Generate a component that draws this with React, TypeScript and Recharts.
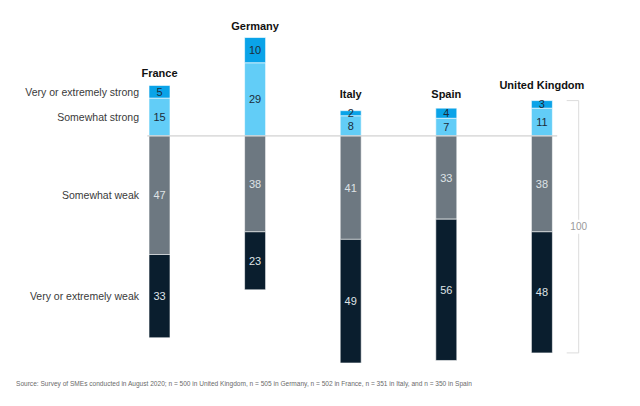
import { BarChart, Bar, XAxis, YAxis, LabelList, ReferenceLine } from 'recharts'

const countries = ['France', 'Germany', 'Italy', 'Spain', 'United Kingdom']
const veryStrong = [5, 10, 2, 4, 3]
const somewhatStrong = [15, 29, 8, 7, 11]
const somewhatWeak = [47, 38, 41, 33, 38]
const veryWeak = [33, 23, 49, 56, 48]
const seriesNames = ['Very or extremely strong', 'Somewhat strong', 'Somewhat weak', 'Very or extremely weak']
const bracketLabel = '100'
const sourceNote =
  'Source: Survey of SMEs conducted in August 2020; n = 500 in United Kingdom, n = 505 in Germany, n = 502 in France, n = 351 in Italy, and n = 350 in Spain'

const data = countries.map((country, i) => ({
  country,
  somewhatStrong: somewhatStrong[i],
  veryStrong: veryStrong[i],
  somewhatWeak: -somewhatWeak[i],
  veryWeak: -veryWeak[i],
}))

const ukIndex = countries.length - 1
const ukTop = veryStrong[ukIndex] + somewhatStrong[ukIndex]
const ukBottom = -(somewhatWeak[ukIndex] + veryWeak[ukIndex])

const FONT = '"Liberation Sans", Arial, sans-serif'

// series name drawn left of the first (France) bar only
function sideLabel(name: string) {
  return (props: any) => {
    if (props.index !== 0) return null
    const { x, y, height } = props
    return (
      <text
        x={x - 10}
        y={y + height / 2}
        textAnchor="end"
        dominantBaseline="central"
        fontSize={10.5}
        fill="#3a3a3a"
        fontFamily={FONT}
      >
        {name}
      </text>
    )
  }
}

function valueLabel(color: string) {
  return (props: any) => {
    const { x, y, width, height, value } = props
    return (
      <text
        x={x + width / 2}
        y={y + height / 2}
        textAnchor="middle"
        dominantBaseline="central"
        fontSize={11}
        fill={color}
        fontFamily={FONT}
      >
        {Math.abs(Number(value))}
      </text>
    )
  }
}

// country name above the bar, lifted clear of a small top segment's value
function countryLabel(props: any) {
  const { x, y, width, height, value } = props
  const top = Math.min(y, y + height)
  const center = y + height / 2
  const base = Math.min(top - 8, center - 15)
  return (
    <text x={x + width / 2} y={base} textAnchor="middle" fontSize={11} fontWeight="bold" fill="#111" fontFamily={FONT}>
      {value}
    </text>
  )
}

function Baseline(p: any) {
  return <line x1={p.x1 - 12.5} y1={p.y1} x2={p.x2 + 15} y2={p.y2} stroke="#c6c6c6" strokeWidth={1} />
}

function Bracket(p: any) {
  const x = p.x1 + 36.5
  const top = Math.min(p.y1, p.y2)
  const bottom = Math.max(p.y1, p.y2)
  const mid = (top + bottom) / 2
  return (
    <g>
      <path
        d={`M${x - 12},${top} H${x} V${bottom} H${x - 12}`}
        fill="none"
        stroke="#dcdcdc"
        strokeWidth={1}
      />
      <rect x={x - 11} y={mid - 7} width={22} height={14} fill="#fff" />
      <text x={x} y={mid} textAnchor="middle" dominantBaseline="central" fontSize={10} fill="#9a9a9a" fontFamily={FONT}>
        {bracketLabel}
      </text>
    </g>
  )
}

export default function App() {
  return (
    <div style={{ position: 'absolute', left: 0, top: 0, width: 640, height: 406, background: '#fff', fontFamily: FONT }}>
      <BarChart
        width={640}
        height={406}
        data={data}
        stackOffset="sign"
        margin={{ top: 35, right: 50, left: 112, bottom: 43 }}
      >
        <XAxis dataKey="country" type="category" hide />
        <YAxis type="number" domain={[-90, 40]} hide />
        <Bar dataKey="somewhatStrong" stackId="a" fill="#62cdf7" stroke="#fff" strokeWidth={0.6} barSize={21} isAnimationActive={false}>
          <LabelList dataKey="somewhatStrong" content={valueLabel('#1c2c3a')} />
          <LabelList dataKey="somewhatStrong" content={sideLabel(seriesNames[1])} />
        </Bar>
        <Bar dataKey="veryStrong" stackId="a" fill="#0aa3e8" stroke="#fff" strokeWidth={0.6} barSize={21} isAnimationActive={false}>
          <LabelList dataKey="veryStrong" content={valueLabel('#1c2c3a')} />
          <LabelList dataKey="veryStrong" content={sideLabel(seriesNames[0])} />
          <LabelList dataKey="country" content={countryLabel} />
        </Bar>
        <Bar dataKey="somewhatWeak" stackId="a" fill="#6d7881" stroke="#fff" strokeWidth={0.6} barSize={21} isAnimationActive={false}>
          <LabelList dataKey="somewhatWeak" content={valueLabel('#dfe3e6')} />
          <LabelList dataKey="somewhatWeak" content={sideLabel(seriesNames[2])} />
        </Bar>
        <Bar dataKey="veryWeak" stackId="a" fill="#0a1e2e" stroke="#fff" strokeWidth={0.6} barSize={21} isAnimationActive={false}>
          <LabelList dataKey="veryWeak" content={valueLabel('#dfe3e6')} />
          <LabelList dataKey="veryWeak" content={sideLabel(seriesNames[3])} />
        </Bar>
        <ReferenceLine
          segment={[
            { x: countries[0], y: 0 },
            { x: countries[ukIndex], y: 0 },
          ]}
          shape={Baseline}
        />
        <ReferenceLine
          segment={[
            { x: countries[ukIndex], y: ukTop },
            { x: countries[ukIndex], y: ukBottom },
          ]}
          shape={Bracket}
        />
      </BarChart>
      <div
        style={{
          position: 'absolute',
          left: 16,
          top: 379,
          fontSize: 8,
          color: '#6a6a6a',
          whiteSpace: 'nowrap',
          fontFamily: FONT,
          transform: 'scaleX(0.82)',
          transformOrigin: 'left top',
        }}
      >
        {sourceNote}
      </div>
    </div>
  )
}
